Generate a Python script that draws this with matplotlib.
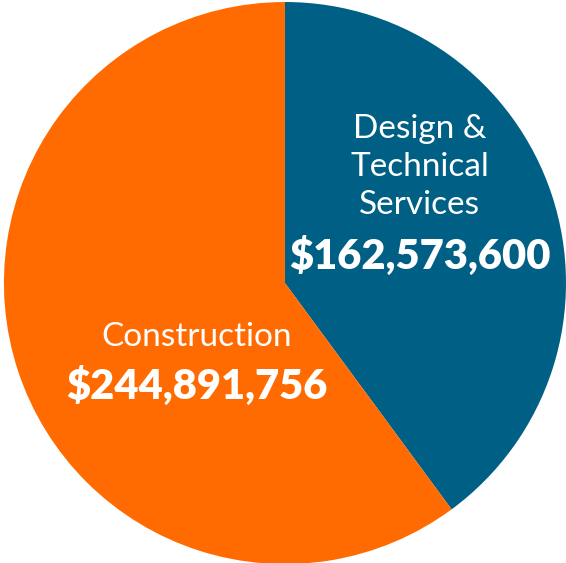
import matplotlib
matplotlib.use("Agg")
import matplotlib.pyplot as plt

categories = ["Design &\nTechnical\nServices", "Construction"]
values = [162573600, 244891756]
value_labels = ["$162,573,600", "$244,891,756"]
colors = ["#005F85", "#FF6B00"]

fig = plt.figure(figsize=(5.66, 5.63), dpi=100)
ax = fig.add_axes([0, 0, 1, 1])
ax.pie(values, colors=colors, startangle=90, counterclock=False,
       radius=1.0, center=(0, 0), wedgeprops=dict(linewidth=0))
ax.set_aspect("equal")
ax.set_xlim(-1.014, 1.0)
ax.set_ylim(-0.996, 1.007)
ax.axis("off")

label_pos = [(0.48, 0.413), (-0.313, -0.192)]
value_pos = [(0.48, 0.095), (-0.313, -0.365)]
for cat, vl, lp, vp in zip(categories, value_labels, label_pos, value_pos):
    ax.text(lp[0], lp[1], cat, ha="center", va="center", color="white",
            fontsize=24, family="Lato", fontweight="normal", linespacing=1.33)
    ax.text(vp[0], vp[1], vl, ha="center", va="center", color="white",
            fontsize=30, family="Lato", fontweight="heavy")

fig.savefig("out.png", dpi=100, facecolor="white")
